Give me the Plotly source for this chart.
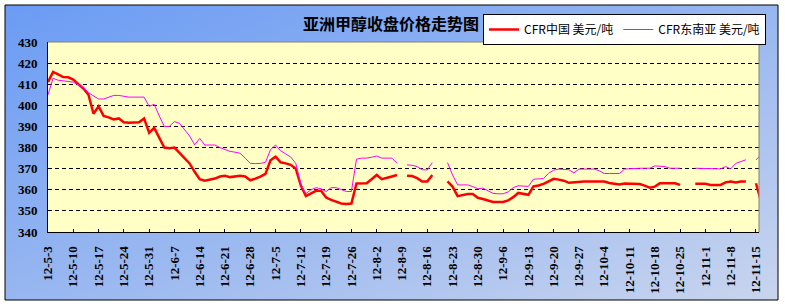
import base64
import plotly.graph_objects as go

# ---- data (day index = trading day counted from 12-5-3) ----
tick_labels = ["12-5-3", "12-5-10", "12-5-17", "12-5-24", "12-5-31", "12-6-7", "12-6-14",
               "12-6-21", "12-6-28", "12-7-5", "12-7-12", "12-7-19", "12-7-26", "12-8-2",
               "12-8-9", "12-8-16", "12-8-23", "12-8-30", "12-9-6", "12-9-13", "12-9-20",
               "12-9-27", "12-10-4", "12-10-11", "12-10-18", "12-10-25", "12-11-1", "12-11-8",
               "12-11-15"]

cfr_china = [
    411.0, 415.8, 414.7, 413.4, 413.3, 412.2, 410.0, 408.0, 405.0, 396.0,
    399.5, 395.0, 394.3, 393.3, 393.8, 392.0, 391.7, 391.7, 392.0, 393.8,
    387.0, 389.3, 384.5, 380.0, 379.7, 380.0, 377.5, 375.0, 372.5, 368.5,
    365.0, 364.3, 364.8, 365.3, 366.3, 366.6, 366.0, 366.3, 366.6, 366.3,
    364.5, 365.3, 366.2, 367.5, 374.0, 375.7, 373.0, 372.5, 371.8, 370.0,
    362.0, 357.0, 358.2, 359.5, 359.5, 356.3, 355.2, 354.3, 353.5, 353.3,
    353.5, 363.0, 363.0, 363.1, 365.0, 367.0, 365.0, 365.5, 366.3, 367.0,
    None, 366.7, 366.5, 365.5, 363.9, 363.9, 367.0, None, None, 364.0,
    361.5, 357.0, 357.5, 358.0, 358.0, 356.2, 355.6, 355.0, 354.2, 354.2,
    354.2, 355.0, 356.5, 358.5, 358.0, 357.6, 361.6, 362.0, 362.8, 364.0,
    365.2, 364.8, 364.3, 363.3, 363.5, 363.9, 363.9, 363.9, 363.9, 363.9,
    363.9, 363.2, 362.8, 362.5, 363.0, 362.8, 362.7, 362.7, 362.0, 361.0,
    361.5, 363.1, 363.1, 363.1, 363.1, 362.3, None, None, 362.8, 362.8,
    362.8, 362.3, 362.3, 362.3, 363.5, 363.9, 363.5, 363.9, 363.9, None,
    363.1, 354.5,
]

cfr_sea = [
    405.0, 412.8, 411.9, 411.5, 411.4, 411.0, 409.7, 408.5, 406.0, 404.3,
    403.0, 403.0, 404.0, 404.7, 404.7, 404.3, 403.9, 403.9, 403.9, 403.9,
    399.5, 400.5, 395.0, 390.0, 390.0, 392.3, 391.5, 388.5, 385.5, 381.3,
    384.3, 381.2, 381.2, 381.2, 380.0, 379.0, 378.2, 377.8, 377.3, 375.0,
    372.5, 372.4, 372.5, 373.0, 379.0, 381.2, 378.5, 377.0, 375.5, 372.5,
    362.5, 358.2, 360.0, 361.0, 360.5, 359.2, 361.0, 361.0, 360.0, 359.2,
    359.2, 374.5, 375.0, 375.0, 375.4, 376.0, 375.0, 375.0, 375.0, 372.6,
    None, 371.8, 371.6, 371.0, 369.5, 369.4, 372.9, None, None, 372.9,
    367.0, 362.3, 362.3, 362.3, 361.5, 360.5, 360.8, 359.6, 358.3, 358.1,
    358.1, 359.0, 361.0, 361.9, 361.7, 361.6, 365.0, 365.0, 365.3, 367.8,
    369.3, 369.8, 369.8, 369.5, 368.0, 369.8, 369.8, 369.8, 369.8, 369.0,
    367.7, 367.7, 367.7, 367.7, 369.8, 370.0, 370.2, 370.2, 370.2, 370.2,
    371.3, 371.3, 371.0, 370.2, 370.2, 370.2, None, None, 370.2, 370.1,
    370.0, 370.0, 369.9, 369.9, 371.0, 369.9, 372.5, 373.3, 374.2, None,
    374.2, 376.5,
]

days = list(range(len(cfr_china)))
tick_vals = [i * 5 for i in range(len(tick_labels))]
y_ticks = list(range(340, 431, 10))

title_text = "亚洲甲醇收盘价格走势图"
name_cn = "CFR中国 美元/吨"
name_sea = "CFR东南亚 美元/吨"

# ---- layout geometry (pixels) ----
W, H = 785, 306
L, R, T, B = 48, 26, 42, 74
pw, ph = W - L - R, H - T - B


def px(xp):
    return (xp - L) / pw


def py(yp):
    return (H - B - yp) / ph


svg = ("<svg xmlns='http://www.w3.org/2000/svg' width='773' height='295' preserveAspectRatio='none'>"
       "<defs><linearGradient id='g' x1='0' y1='0' x2='1' y2='1'>"
       "<stop offset='0' stop-color='#6A9BF4'/><stop offset='0.55' stop-color='#9CB9F0'/>"
       "<stop offset='1' stop-color='#C9D5EE'/></linearGradient></defs>"
       "<rect width='100%' height='100%' fill='url(#g)'/></svg>")
svg_uri = "data:image/svg+xml;base64," + base64.b64encode(svg.encode()).decode()

fig = go.Figure()
fig.add_trace(go.Scatter(x=days, y=cfr_china, mode="lines", name=name_cn,
                         line=dict(color="#FF0000", width=2.5), connectgaps=False))
fig.add_trace(go.Scatter(x=days, y=cfr_sea, mode="lines", name=name_sea,
                         line=dict(color="#FF00FF", width=1), connectgaps=False))

fig.update_layout(
    width=W, height=H,
    margin=dict(l=L, r=R, t=T, b=B, pad=0),
    paper_bgcolor="white",
    plot_bgcolor="#FFFFC6",
    showlegend=True,
    legend=dict(orientation="h", x=px(483), y=py(14), xanchor="left", yanchor="top",
                bgcolor="white", bordercolor="black", borderwidth=1,
                font=dict(family="Noto Sans CJK SC", size=12, color="black"),
                itemwidth=30, tracegroupgap=0),
    images=[dict(source=svg_uri, xref="paper", yref="paper", x=px(5), y=py(5),
                 sizex=(778 - 5) / pw, sizey=(300 - 5) / ph, sizing="stretch",
                 xanchor="left", yanchor="top", layer="below")],
    shapes=[
        dict(type="rect", xref="paper", yref="paper", x0=px(5), x1=px(778), y0=py(300), y1=py(5),
             line=dict(color="black", width=1), fillcolor="rgba(0,0,0,0)", layer="below"),
        dict(type="rect", xref="paper", yref="paper", x0=0, x1=1, y0=0, y1=1,
             line=dict(width=0), fillcolor="#FFFFC6", layer="below"),
        dict(type="line", xref="paper", yref="paper", x0=0, x1=1, y0=1, y1=1,
             line=dict(color="#808080", width=1), layer="above"),
        dict(type="line", xref="paper", yref="paper", x0=1, x1=1, y0=0, y1=1,
             line=dict(color="#808080", width=1), layer="above"),
    ],
    annotations=[dict(text=title_text, xref="paper", yref="paper", x=px(391), y=py(23),
                      xanchor="center", yanchor="middle", showarrow=False,
                      font=dict(family="Noto Sans CJK SC", size=16, color="black", weight="bold"))],
)

fig.update_xaxes(range=[0, 140.6], tickmode="array", tickvals=tick_vals, ticktext=tick_labels,
                 tickangle=-90, ticks="inside", ticklen=3, tickcolor="black",
                 showline=True, linecolor="black", linewidth=1, showgrid=False, zeroline=False,
                 ticklabelstandoff=8,
                 tickfont=dict(family="Liberation Serif", size=13, color="black", weight="bold"))
fig.update_yaxes(range=[340, 430], tickmode="array", tickvals=y_ticks,
                 showline=True, linecolor="black", linewidth=1,
                 showgrid=True, gridcolor="black", gridwidth=1, griddash="4px,3px",
                 zeroline=False, ticks="", ticklabelstandoff=7,
                 tickfont=dict(family="Liberation Serif", size=13, color="black", weight="bold"))

fig.write_html("out.html")
